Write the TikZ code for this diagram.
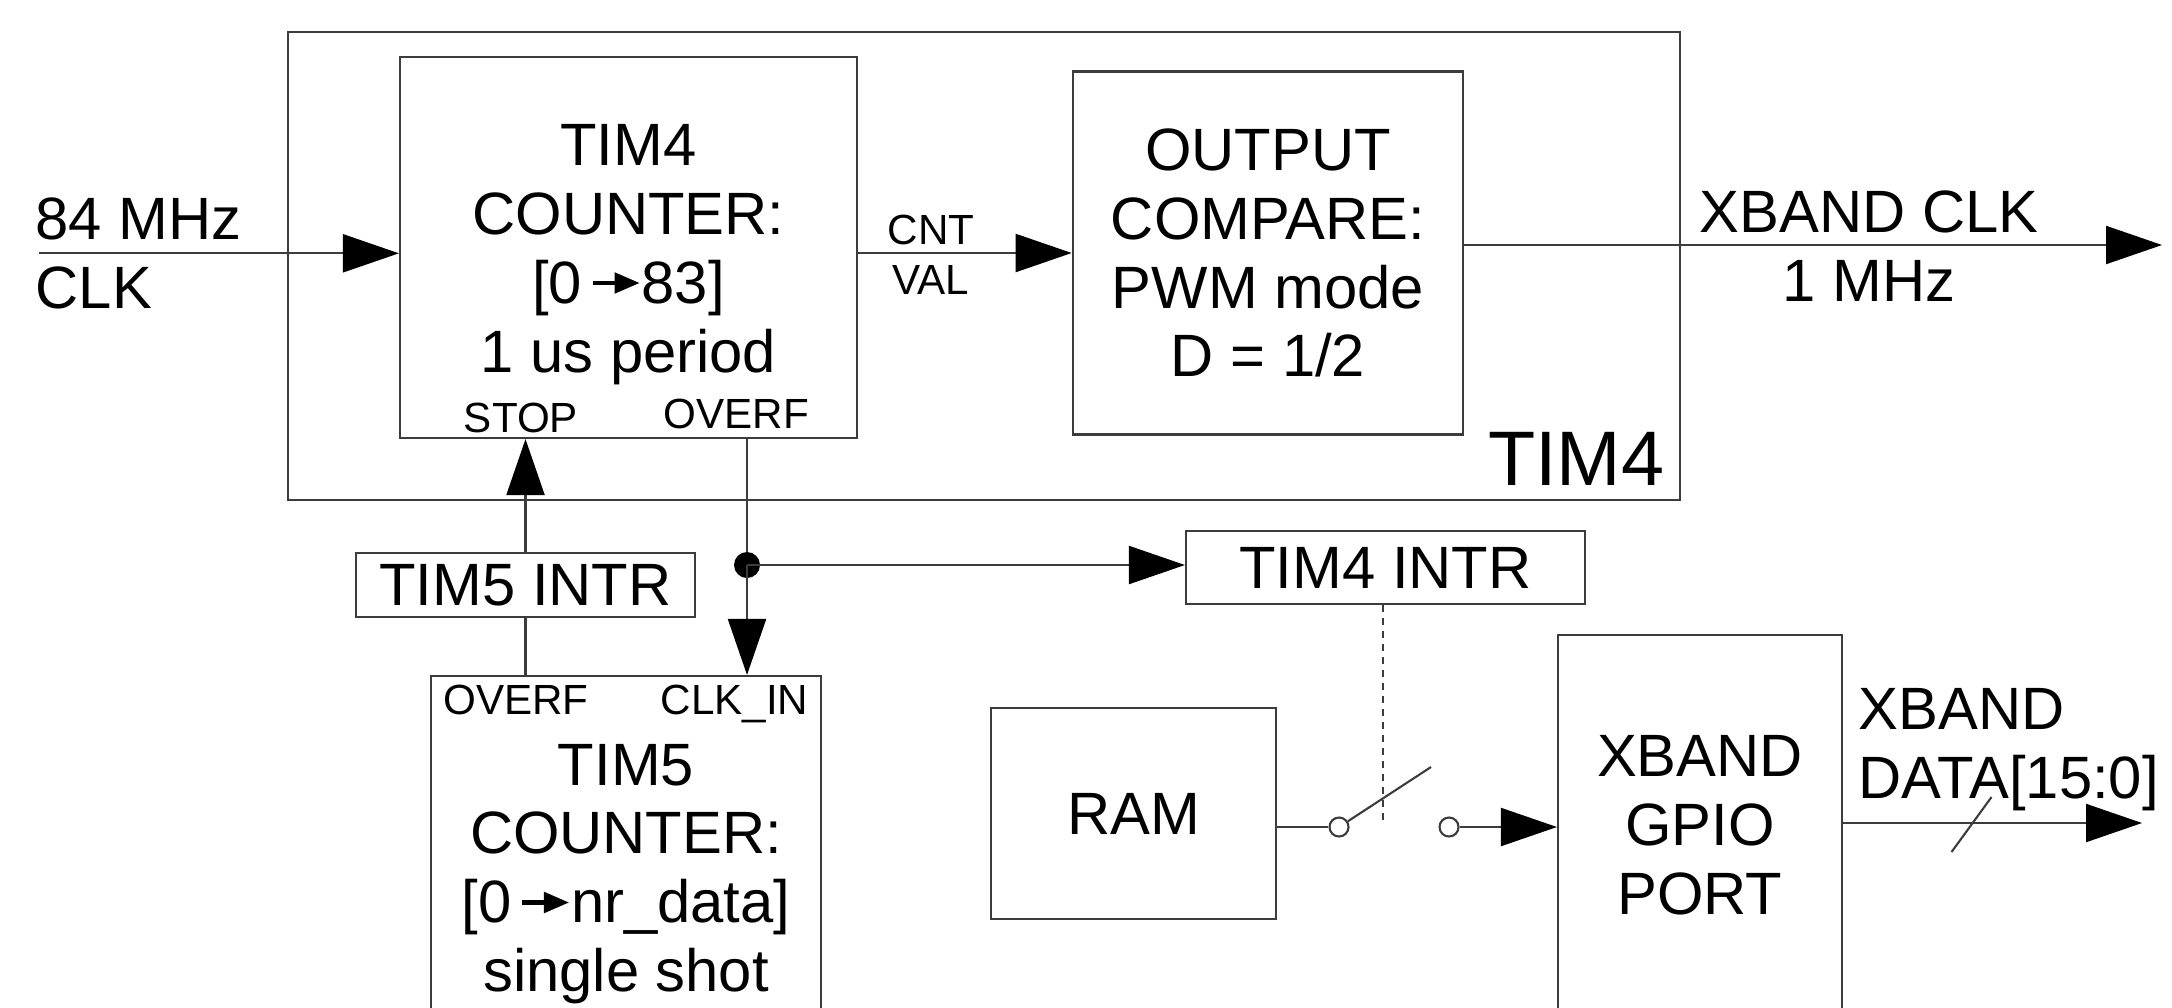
\documentclass[tikz,border=0pt]{standalone}
\usepackage{fontspec}
\setmainfont{Liberation Sans}
\usepackage{tikz}
\usetikzlibrary{arrows.meta,calc}
\definecolor{wire}{RGB}{60,60,60}
\tikzset{
  blk/.style={draw=wire, line width=0.6pt, align=center, inner sep=0pt,
              font=\fontsize{17}{19.6}\selectfont},
  tag/.style={inner sep=0pt, align=center, font=\fontsize{12}{14.2}\selectfont},
  lbl/.style={inner sep=0pt, font=\fontsize{17}{19.6}\selectfont},
  wireln/.style={draw=wire, line width=0.6pt},
  arrow/.style={wireln, -{Triangle[length=0.56cm, width=0.38cm, color=black]}},
  contact/.style={circle, draw=wire, line width=0.6pt, inner sep=0pt, minimum size=0.19cm},
}
\newcommand{\cntarrow}{\hspace{0.15em}\tikz[baseline=0pt]\draw[black, line width=0.07em,
  -{Triangle[length=0.42em, width=0.34em]}] (0,0.34em) -- (0.78em,0.34em);}

\begin{document}
\begin{tikzpicture}
  \useasboundingbox (0,0) rectangle (21.72,-10.07);
  \clip (0,0) rectangle (21.72,-10.07);

  % TIM4 block
  \node[blk, minimum width=13.92cm, minimum height=4.68cm] (tim4) at (9.84,-2.66) {};
  \node[anchor=base east, inner sep=0pt, font=\fontsize{22}{26}\selectfont] (tim4lbl) at (16.65,-4.85) {TIM4};
  \node[blk, minimum width=4.57cm, minimum height=3.81cm] (cnt4) at (6.285,-2.475) {};
  \node[lbl, align=center] (cnt4txt) at (6.285,-2.545)
       {TIM4\\COUNTER:\\{[0\cntarrow83]}\\1 us period};
  \node[blk, minimum width=3.905cm, minimum height=3.63cm] (oc) at (12.68,-2.53)
       {OUTPUT\\COMPARE:\\PWM mode\\D = 1/2};
  \node[tag, anchor=base] (stop4) at (5.21,-4.32) {STOP};
  \node[tag, anchor=base] (ovf4) at (7.365,-4.28) {OVERF};
  \node[tag] (cntval) at (9.31,-2.55) {CNT\\VAL};

  % interrupts
  \node[blk, minimum width=3.39cm, minimum height=0.64cm] (intr5) at (5.255,-5.85) {TIM5 INTR};
  \node[blk, minimum width=3.99cm, minimum height=0.73cm] (intr4) at (13.855,-5.675) {TIM4 INTR};

  % TIM5, RAM and GPIO
  \node[blk, minimum width=3.90cm, minimum height=3.96cm] (cnt5) at (6.26,-8.74)
       {TIM5\\COUNTER:\\{[0\cntarrow nr\_data]}\\single shot};
  \node[tag, anchor=base] (ovf5) at (5.16,-7.14) {OVERF};
  \node[tag, anchor=base] (clkin5) at (7.345,-7.14) {CLK\_IN};
  \node[blk, minimum width=2.85cm, minimum height=2.11cm] (ram) at (11.335,-8.135) {RAM};
  \node[blk, minimum width=2.84cm, minimum height=3.80cm] (gpio) at (17.0,-8.25) {XBAND\\GPIO\\PORT};

  % outside labels
  \node[lbl, align=left, anchor=west] (clklbl) at (0.35,-2.535) {84 MHz\\CLK};
  \node[lbl, align=center] (xclklbl) at (18.69,-2.465) {XBAND CLK\\1 MHz};
  \node[lbl, align=left, anchor=west] (xdatalbl) at (18.58,-7.495) {XBAND\\DATA[15:0]};

  % clock path
  \coordinate (clksrc) at (0.386,-2.533);
  \coordinate (xclkout) at (21.62,-2.45);
  \draw[arrow] (clksrc) -- (clksrc -| cnt4.west);
  \draw[arrow] (cnt4.east |- oc.west) -- (oc.west);
  \draw[arrow] (oc.east |- xclkout) -- (xclkout);

  % overflow and stop
  \coordinate (split) at (7.47,-5.65);
  \draw[arrow] (intr5.north) -- (intr5.north |- cnt4.south);
  \draw[wireln] (intr5.south) -- (intr5.south |- cnt5.north);
  \draw[wireln] (cnt4.south -| split) -- (split);
  \fill[black] (split) circle (0.13);
  \draw[arrow] (split) -- (split -| intr4.west);
  \draw[arrow] (split) -- (split |- cnt5.north);

  % switch
  \node[contact] (sw1) at (13.39,-8.27) {};
  \node[contact] (sw2) at (14.49,-8.27) {};
  \coordinate (swtip) at (14.31,-7.67);
  \coordinate (swctl) at (13.83,-8.23);
  \draw[wireln] (ram.east |- sw1) -- (sw1.west);
  \draw[wireln] (sw1.33) -- (swtip);
  \draw[wireln, dash pattern=on 0.065cm off 0.065cm] (intr4.south -| swctl) -- (swctl);
  \draw[arrow] (sw2.east) -- (sw2.east -| gpio.west);

  % data out
  \coordinate (xdataout) at (21.42,-8.23);
  \coordinate (bus) at (19.715,-8.23);
  \draw[arrow] (gpio.east |- xdataout) -- (xdataout);
  \draw[wireln] ($(bus)+(-0.2,-0.29)$) -- ($(bus)+(0.2,0.26)$);
\end{tikzpicture}
\end{document}
